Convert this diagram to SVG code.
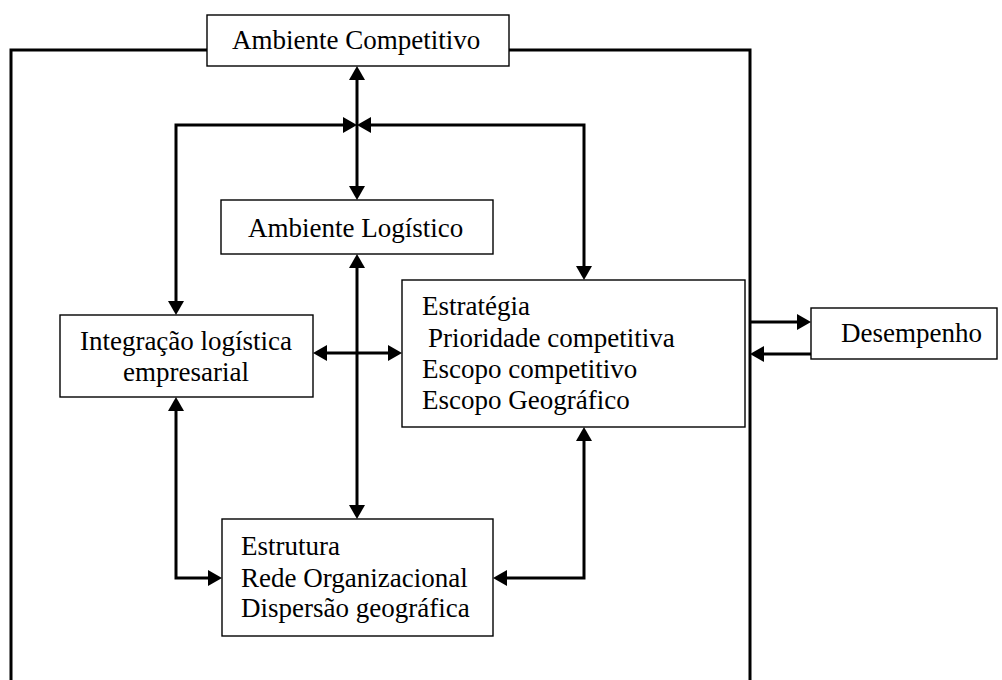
<svg xmlns="http://www.w3.org/2000/svg" width="1002" height="680" viewBox="0 0 1002 680">
  <style>
    .box { fill: #fff; stroke: #000; stroke-width: 1.4; }
    .lbl { font-family: "Liberation Serif", "Times New Roman", serif; font-size: 27px; fill: #000; }
    .wire { fill: none; stroke: #000; stroke-width: 3; stroke-linejoin: miter; }
    .arr { marker-end: url(#head); }
    .both { marker-start: url(#head); marker-end: url(#head); }
  </style>
  <defs>
    <marker id="head" markerUnits="userSpaceOnUse" markerWidth="16" markerHeight="16" refX="9" refY="8" orient="auto-start-reverse">
      <path d="M0,0 L14,8 L0,16 z" fill="#000"/>
    </marker>
  </defs>
  <rect width="1002" height="680" fill="#fff"/>

  <!-- connectors -->
  <g id="connectors">
    <!-- outer frame -->
    <path class="wire" d="M207,50 H11 V680"/>
    <path class="wire" d="M509,50 H750 V680"/>
    <!-- central spine through the crossing -->
    <path class="wire both" d="M357,71 V195"/>
    <path class="wire both" d="M176,310 V125 H352"/>
    <path class="wire both" d="M584,275 V125 H362"/>
    <path class="wire both" d="M357,259 V514"/>
    <path class="wire both" d="M318,353 H397"/>
    <path class="wire both" d="M176,402 V578 H217"/>
    <path class="wire both" d="M584,432 V578 H498"/>
    <!-- performance feedback -->
    <path class="wire arr" d="M750,322 H806"/>
    <path class="wire arr" d="M811,354 H755"/>
  </g>

  <g id="ambiente-competitivo">
    <rect class="box" x="207" y="15" width="302" height="51"/>
    <text class="lbl" x="232" y="49">Ambiente Competitivo</text>
  </g>

  <g id="ambiente-logistico">
    <rect class="box" x="221" y="200" width="272" height="54"/>
    <text class="lbl" x="248" y="237">Ambiente Logístico</text>
  </g>

  <g id="integracao">
    <rect class="box" x="60" y="315" width="253" height="82"/>
    <text class="lbl" x="186" y="350" text-anchor="middle">Integração logística</text>
    <text class="lbl" x="186" y="381" text-anchor="middle">empresarial</text>
  </g>

  <g id="estrategia">
    <rect class="box" x="402" y="280" width="343" height="147"/>
    <text class="lbl" x="422" y="315">Estratégia</text>
    <text class="lbl" x="428" y="347">Prioridade competitiva</text>
    <text class="lbl" x="422" y="378">Escopo competitivo</text>
    <text class="lbl" x="422" y="409">Escopo Geográfico</text>
  </g>

  <g id="estrutura">
    <rect class="box" x="222" y="519" width="271" height="117"/>
    <text class="lbl" x="241" y="555">Estrutura</text>
    <text class="lbl" x="241" y="587">Rede Organizacional</text>
    <text class="lbl" x="241" y="617">Dispersão geográfica</text>
  </g>

  <g id="desempenho">
    <rect class="box" x="811" y="308" width="186" height="51"/>
    <text class="lbl" x="841" y="342">Desempenho</text>
  </g>
</svg>
